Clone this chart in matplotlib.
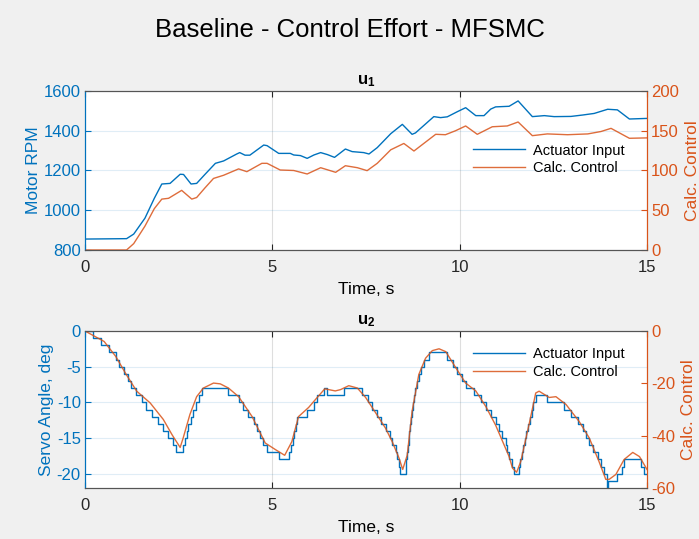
import numpy as np
import matplotlib.pyplot as plt

plt.rcParams['font.family'] = ['Liberation Sans', 'DejaVu Sans']
plt.rcParams['mathtext.fontset'] = 'custom'
plt.rcParams['mathtext.bf'] = 'Liberation Sans:bold'
plt.rcParams['mathtext.rm'] = 'Liberation Sans'
plt.rcParams['axes.unicode_minus'] = False

BLUE = '#0072BD'
ORANGE = '#D95319'

# u1: motor RPM (actuator) and calculated control
u1_act_t = [0, 1.11, 1.3, 1.6, 1.85, 2.05, 2.27, 2.54, 2.63, 2.83, 2.98, 3.2, 3.48, 3.70,
            4.05, 4.13, 4.27, 4.40, 4.77, 4.86, 5.17, 5.48, 5.57, 5.75, 5.93, 6.11, 6.29,
            6.47, 6.66, 6.95, 7.13, 7.44, 7.58, 7.80, 8.16, 8.47, 8.73, 8.82, 9.31, 9.49,
            9.67, 9.94, 10.16, 10.43, 10.65, 10.83, 10.96, 11.32, 11.56, 11.94, 12.26,
            12.52, 12.97, 13.28, 13.59, 13.95, 14.21, 14.53, 15.0]
u1_act = [855, 857, 880, 960, 1060, 1132, 1135, 1181, 1180, 1132, 1135, 1180, 1236, 1248,
          1283, 1290, 1277, 1277, 1328, 1325, 1286, 1286, 1278, 1275, 1261, 1278, 1290,
          1280, 1266, 1308, 1295, 1290, 1283, 1315, 1385, 1432, 1382, 1389, 1471, 1466,
          1470, 1496, 1516, 1476, 1476, 1509, 1520, 1523, 1550, 1471, 1476,
          1471, 1472, 1479, 1487, 1508, 1505, 1459, 1462]

u1_calc_t = [0, 1.11, 1.3, 1.6, 1.85, 2.05, 2.23, 2.58, 2.85, 2.98, 3.2, 3.43, 3.70, 4.10,
             4.32, 4.72, 4.86, 5.21, 5.57, 5.93, 6.29, 6.69, 6.95, 7.27, 7.53, 7.80, 8.16,
             8.51, 8.78, 9.36, 9.62, 9.89, 10.16, 10.47, 10.87, 11.27, 11.56, 11.94, 12.34,
             12.88, 13.42, 13.77, 14.04, 14.53, 15.0]
u1_calc = [0, 0, 8, 30, 52, 64, 65, 75, 64, 66, 78, 90, 94, 102,
           98.5, 109, 109, 100.6, 100, 95.6, 103.5, 97.7, 106, 103.5, 99.8, 109, 126,
           134, 124.5, 145.5, 145, 150, 156, 145.5, 155, 156, 161, 143.8, 146,
           145, 146, 149, 153, 140.5, 141]

# u2: servo angle (actuator, stepped) and calculated control
u2_act_t = [0, 0.22, 0.42, 0.64, 0.82, 0.91, 1.04, 1.14, 1.23, 1.35, 1.51, 1.62, 1.79, 1.95,
            2.07, 2.21, 2.34, 2.43, 2.62, 2.66, 2.71, 2.76, 2.82, 2.88, 2.96, 3.04, 3.12,
            3.83, 4.10, 4.21, 4.35, 4.50, 4.59, 4.68, 4.75, 4.86, 5.17, 5.44, 5.50, 5.54,
            5.58, 5.62, 5.66, 5.93, 6.10, 6.20, 6.37, 6.46, 6.91, 7.40, 7.56, 7.66, 7.80,
            7.89, 8.04, 8.13, 8.20, 8.29, 8.33, 8.38, 8.42, 8.56, 8.58, 8.60, 8.62, 8.64,
            8.66, 8.68, 8.70, 8.73, 8.76, 8.79, 8.82, 8.86, 8.91, 8.97, 9.04, 9.18, 9.67,
            9.82, 9.94, 10.07, 10.16, 10.38, 10.56, 10.70, 10.83, 10.96, 11.05, 11.14,
            11.23, 11.27, 11.32, 11.41, 11.45, 11.59, 11.62, 11.66, 11.70, 11.74, 11.78,
            11.82, 11.87, 11.92, 11.97, 12.03, 12.34, 12.79, 12.97, 13.15, 13.28, 13.37,
            13.46, 13.55, 13.68, 13.77, 13.86, 13.92, 13.97, 14.21, 14.33, 14.39, 14.84,
            14.93, 15.0]
u2_act = [0, -1, -2, -3, -4, -5, -6, -7, -8, -9, -10, -11, -12, -13,
          -14, -15, -16, -17, -16, -15, -14, -13, -12, -11, -10, -9, -8,
          -9, -10, -11, -12, -13, -14, -15, -16, -17, -18, -17, -16, -15,
          -14, -13, -12, -11, -10, -9, -8, -9, -8, -9, -10, -11, -12,
          -13, -14, -15, -16, -17, -18, -19, -20, -19, -18, -17, -16, -15,
          -14, -13, -12, -11, -10, -9, -8, -7, -6, -5, -4, -3, -4,
          -5, -6, -7, -8, -9, -10, -11, -12, -13, -14, -15,
          -16, -17, -18, -19, -20, -19, -18, -17, -16, -15, -14,
          -13, -12, -11, -10, -9, -10, -11, -12, -13, -14, -15,
          -16, -17, -18, -19, -20, -22, -21, -20, -19, -18, -19,
          -20, -20]

u2_calc_t = [0, 0.51, 0.82, 1.10, 1.38, 1.74, 2.09, 2.33, 2.54, 2.62, 2.80, 2.98, 3.16,
             3.43, 3.61, 3.83, 4.10, 4.46, 4.81, 5.08, 5.33, 5.52, 5.70, 5.97, 6.15, 6.40,
             6.68, 6.82, 7.04, 7.27, 7.49, 7.75, 8.02, 8.20, 8.38, 8.48, 8.60, 8.73, 8.91,
             9.09, 9.27, 9.45, 9.63, 9.89, 10.16, 10.43, 10.70, 10.96, 11.32, 11.41, 11.52,
             11.63, 11.86, 12.03, 12.12, 12.39, 12.57, 12.84, 13.19, 13.46, 13.72, 13.90,
             13.99, 14.17, 14.39, 14.62, 14.80, 15.0]
u2_calc = [0, -4.0, -9.7, -16.6, -23.0, -27.5, -33.8, -39.8, -44.5, -40.9, -31.9, -25.1, -21.8,
           -19.9, -20.2, -21.8, -25.1, -32.7, -42.8, -45.3, -47.5, -42.3, -32.7, -29.2, -26.2, -22.1,
           -22.9, -22.4, -20.9, -21.8, -25.4, -31.1, -37.1, -42.3, -48.5, -52.9, -47.5, -30.7, -16.6,
           -10.4, -7.5, -6.8, -7.9, -13.9, -19.9, -22.9, -28.9, -36.0, -48.0, -52.4, -54.0,
           -49.9, -35.2, -23.7, -23.0, -25.4, -25.1, -28.1, -34.6, -40.9, -49.9, -56.7,
           -56.7, -54.8, -49.1, -46.4, -48.0, -52.9]

fig = plt.figure(figsize=(6.99, 5.39), dpi=100, facecolor='#f0f0f0')
fig.text(0.5, 1 - 30 / 539, 'Baseline - Control Effort - MFSMC', fontsize=18.5,
         ha='center', va='center')


def style(ax, ax2, title, ylabel, ylim, yticks, ylim2, yticks2, leg_anchor):
    ax.set_xlim(0, 15)
    ax.set_xticks([0, 5, 10, 15])
    ax.set_ylim(*ylim)
    ax.set_yticks(yticks)
    ax2.set_ylim(*ylim2)
    ax2.set_yticks(yticks2)
    ax.set_title(title, fontsize=12, fontweight='bold', pad=5)
    ax.set_xlabel('Time, s', fontsize=12.5, labelpad=5)
    ax.set_ylabel(ylabel, fontsize=12.5, color=BLUE, labelpad=2)
    ax2.set_ylabel('Calc. Control', fontsize=12.5, color=ORANGE, labelpad=4)
    ax.tick_params(axis='x', direction='in', length=4, labelsize=12, colors='#262626',
                   top=True, pad=7)
    ax.tick_params(axis='y', direction='in', length=4, labelsize=12, colors=BLUE, pad=3)
    ax2.tick_params(axis='y', direction='in', length=4, labelsize=12, colors=ORANGE, pad=3)
    for a in (ax, ax2):
        a.spines['top'].set_color('#555555')
        a.spines['bottom'].set_color('#555555')
        a.spines['left'].set_color(BLUE)
        a.spines['right'].set_color(ORANGE)
    ax.grid(axis='x', color='#262626', alpha=0.15, lw=0.8)
    ax.grid(axis='y', color=BLUE, alpha=0.12, lw=0.8)
    ax.set_axisbelow(True)
    h1, l1 = ax.get_legend_handles_labels()
    h2, l2 = ax2.get_legend_handles_labels()
    ax2.legend(h1 + h2, l1 + l2, loc='center right', bbox_to_anchor=leg_anchor,
               frameon=False, fontsize=10.5, handlelength=3.6, handletextpad=0.5,
               labelspacing=0.25, borderaxespad=0)


ax1 = fig.add_axes([0.1216, 0.5362, 0.804, 0.295])
ax1b = ax1.twinx()
ax1.plot(u1_act_t, u1_act, color=BLUE, lw=1.0, label='Actuator Input')
ax1b.plot(u1_calc_t, u1_calc, color=ORANGE, lw=1.0, alpha=0.85, label='Calc. Control')
style(ax1, ax1b, r'$\mathbf{u_1}$', 'Motor RPM', (800, 1600), range(800, 1601, 200),
      (0, 200), range(0, 201, 50), (0.97, 0.57))

ax2 = fig.add_axes([0.1216, 0.0946, 0.804, 0.2913])
ax2b = ax2.twinx()
ax2.step(u2_act_t, u2_act, where='post', color=BLUE, lw=1.0, label='Actuator Input')
ax2b.plot(u2_calc_t, u2_calc, color=ORANGE, lw=1.0, alpha=0.85, label='Calc. Control')
style(ax2, ax2b, r'$\mathbf{u_2}$', 'Servo Angle, deg', (-22, 0), [0, -5, -10, -15, -20],
      (-60, 0), [0, -20, -40, -60], (0.97, 0.795))

fig.savefig('out.png', dpi=100, facecolor=fig.get_facecolor())
